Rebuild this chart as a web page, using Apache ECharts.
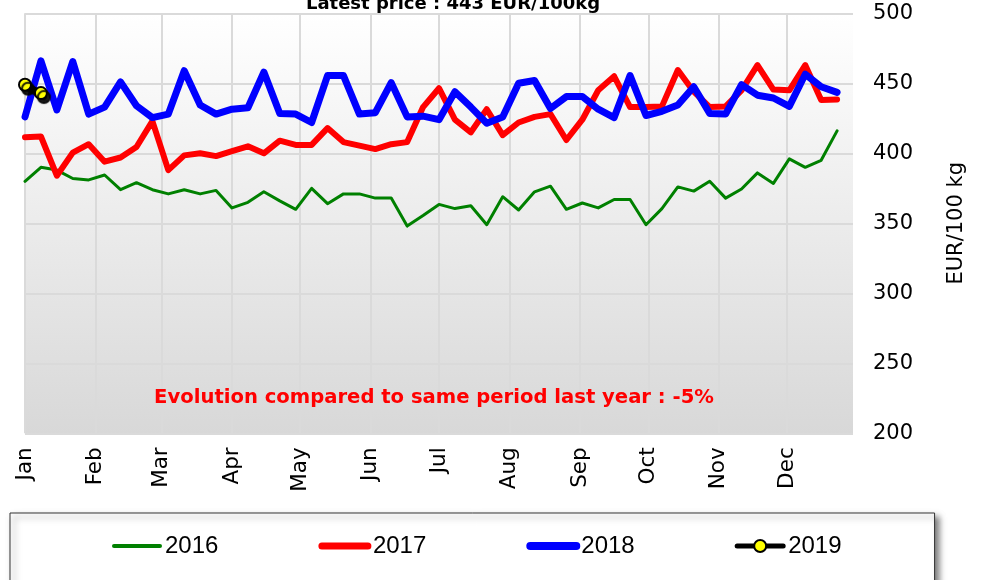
<!DOCTYPE html>
<html>
<head>
<meta charset="utf-8">
<script src="https://cdn.jsdelivr.net/npm/echarts@6/dist/echarts.min.js"></script>
<style>
html,body{margin:0;padding:0;background:#fff;}
#chart{width:989px;height:580px;}
</style>
</head>
<body>
<div id="chart"></div>
<script>
// Week offsets (days since 1 Jan) of the weekly observations
var weekDays = [0,7,14,21,28,35,42,49,56,63,70,77,84,91,98,105,112,119,126,133,140,147,154,161,168,175,182,189,196,203,210,217,224,231,238,245,252,259,266,273,280,287,294,301,308,315,322,329,336,343,350,357];
// Month start offsets (days) and labels
var monthDays = [0,31,60,91,121,152,182,213,244,274,305,335];
var monthNames = ['Jan','Feb','Mar','Apr','May','Jun','Jul','Aug','Sep','Oct','Nov','Dec'];
var yTicks = [200,250,300,350,400,450,500];

var y2016 = [380,390,388,382,381,384.5,374,379,374,371,374,371,373.5,361,365,372.5,366,360,375,364,371,371,368,368,348,355.5,363.5,360.5,362.5,349,369,359.5,372.5,376.5,360,364.5,361,367,367,349,360.5,376,373,380,368,374.5,386,378.5,396,390,395,416];
var y2017 = [411.5,412,384,400.5,406.5,394,397,404.5,423,388,398.5,400,398,401.5,405,400,409,406,406,418,408,405.5,403,406.5,408,433,446.5,424,415,431.5,413,422,426,428,409.5,424,445,455,433,433,433.5,459.5,444,433,433.5,445,463,445.5,445,463,438,438.5];
var y2018 = [426,466,431,465.5,428,433,451,434,425.5,428,459,434.5,428,431.5,432.5,458,428.5,428,422,455.5,455.5,428,429,450.5,426,426.5,424,444,433,421.5,426,450,452,432,440.5,440.5,431.5,425.5,455.5,427,430,434.5,447.5,428.5,428,449,441.5,439.5,433.5,456.5,447.5,443.5];
var y2019 = [449,443];

var seriesNames = ['2016','2017','2018','2019'];
var titleText = 'Latest price : 443 EUR/100kg';
var noteText = 'Evolution compared to same period last year : -5%';
var yName = 'EUR/100 kg';

function pairs(vals){
  var out = [];
  for (var i = 0; i < vals.length; i++) out.push([weekDays[i], vals[i]]);
  return out;
}

var chart = echarts.init(document.getElementById('chart'), null, {renderer:'canvas'});
var FONT = '"DejaVu Sans", Verdana, sans-serif';
chart.setOption({
  animation: false,
  backgroundColor: '#ffffff',
  title: [
    {text: titleText, left: 448, top: -10, textAlign: 'center',
     textStyle: {fontFamily: FONT, fontWeight: 'bold', fontSize: 18, color: '#000'}},
    {text: noteText, left: 429, top: 383, textAlign: 'center',
     textStyle: {fontFamily: FONT, fontWeight: 'bold', fontSize: 19.6, color: '#ff0000'}}
  ],
  grid: {left: 25, right: 136, top: 13.3, bottom: 146.7, show: true, borderWidth: 0,
    backgroundColor: new echarts.graphic.LinearGradient(0,0,0,1,[
      {offset:0, color:'#ffffff'},{offset:1, color:'#d8d8d8'}])},
  legend: {
    left: 10, top: 513,
    padding: [21, 93, 40, 102],
    itemGap: 100, itemWidth: 46, itemHeight: 15,
    backgroundColor: '#ffffff', borderColor: '#333', borderWidth: 1,
    shadowColor: 'rgba(0,0,0,0.5)', shadowBlur: 6, shadowOffsetX: 4, shadowOffsetY: 4,
    textStyle: {fontFamily: '"Liberation Sans", Arial, sans-serif', fontSize: 24, color: '#000'},
    data: [
      {name: seriesNames[0], itemStyle: {opacity: 0}, lineStyle: {width: 4, cap: 'round'}},
      {name: seriesNames[1], itemStyle: {opacity: 0}, lineStyle: {width: 7, cap: 'round'}},
      {name: seriesNames[2], itemStyle: {opacity: 0}, lineStyle: {width: 8, cap: 'round'}},
      {name: seriesNames[3], lineStyle: {width: 5, cap: 'round'}}
    ]
  },
  xAxis: {
    type: 'value', min: 0, max: 364,
    axisLine: {show: false},
    axisTick: {show: false, customValues: monthDays},
    axisLabel: {customValues: monthDays, rotate: 90, margin: 14,
      fontFamily: FONT, fontSize: 21.5, color: '#000',
      formatter: function(v){ return monthNames[monthDays.indexOf(v)]; }},
    splitLine: {show: true, lineStyle: {color: '#dadada', width: 2}}
  },
  yAxis: {
    type: 'value', position: 'right', min: 200, max: 500, interval: 50,
    name: yName, nameLocation: 'middle', nameRotate: 90, nameGap: 93,
    nameTextStyle: {fontFamily: FONT, fontSize: 21, color: '#000'},
    axisLine: {show: false}, axisTick: {show: false},
    axisLabel: {margin: 20, fontFamily: FONT, fontSize: 21, color: '#000'},
    splitLine: {show: true, lineStyle: {color: '#dadada', width: 2}}
  },
  series: [
    {name: seriesNames[0], type: 'line', data: pairs(y2016), symbol: 'none', color: '#008000',
     lineStyle: {width: 3, color: '#008000', cap: 'round', join: 'round'}, z: 2},
    {name: seriesNames[1], type: 'line', data: pairs(y2017), symbol: 'none', color: '#ff0000',
     lineStyle: {width: 6, color: '#ff0000', cap: 'round', join: 'round'}, z: 3},
    {name: seriesNames[2], type: 'line', data: pairs(y2018), symbol: 'none', color: '#0000ff',
     lineStyle: {width: 7, color: '#0000ff', cap: 'round', join: 'round'}, z: 4},
    {name: seriesNames[3], type: 'line', data: pairs(y2019), symbol: 'circle', symbolSize: 12,
     color: '#ffff00',
     itemStyle: {color: '#ffff00', borderColor: '#000', borderWidth: 2,
       shadowColor: 'rgba(0,0,0,0.9)', shadowOffsetX: 3, shadowOffsetY: 4, shadowBlur: 1},
     lineStyle: {width: 6, color: '#000', cap: 'round', join: 'round',
       shadowColor: 'rgba(0,0,0,0.9)', shadowOffsetX: 3, shadowOffsetY: 4, shadowBlur: 1}, z: 5}
  ]
});
</script>
</body>
</html>
